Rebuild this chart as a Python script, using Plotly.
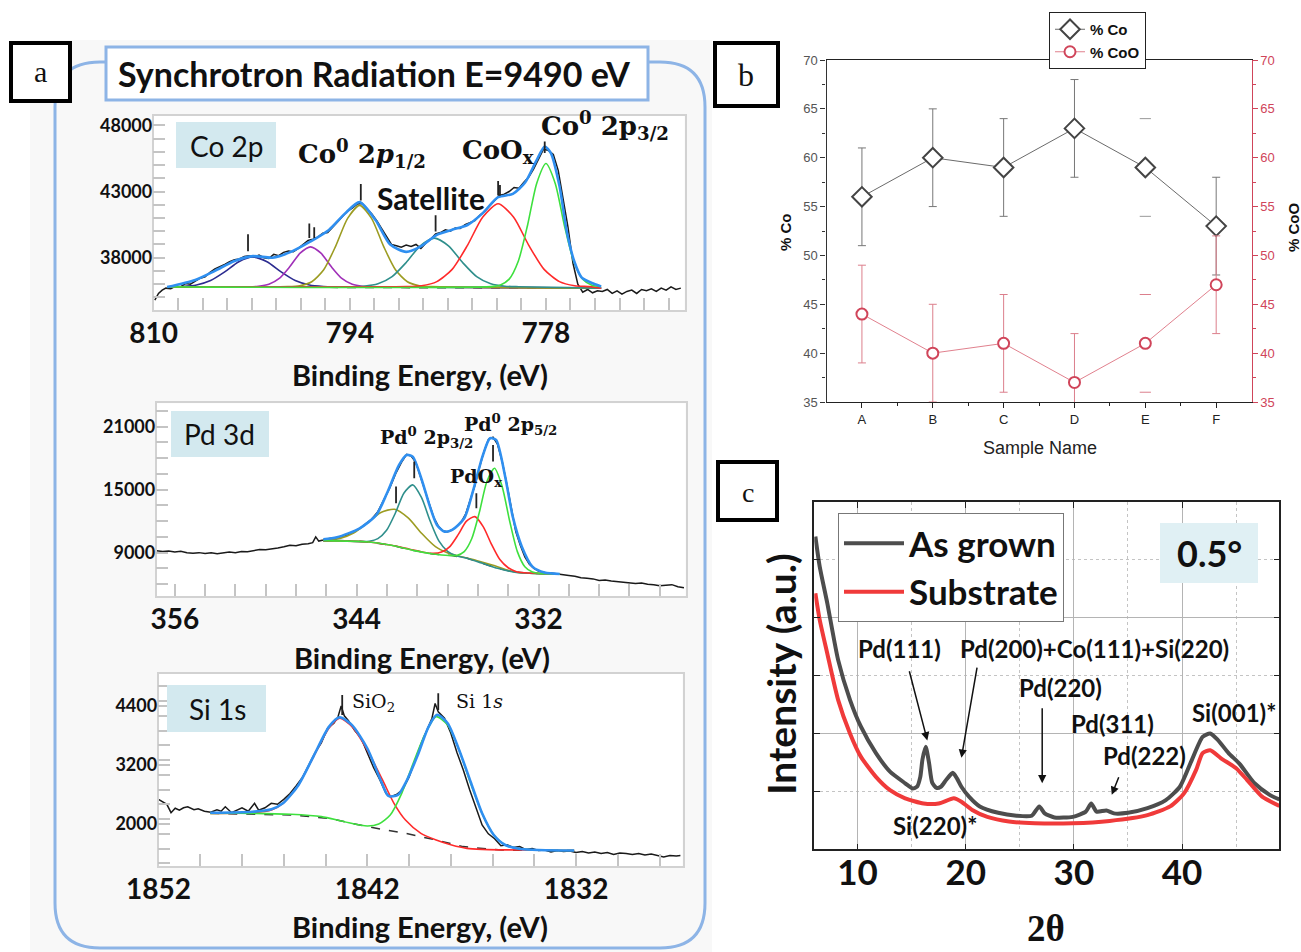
import plotly.graph_objects as go

W, H = 1301, 952


def px(x):
    return x / W


def py(y):
    return 1 - y / H


def dom_x(a, b):
    return [a / W, b / W]


def dom_y(top, bottom):
    return [1 - bottom / H, 1 - top / H]


# ======================= DATA =======================
# ---- Panel a : Co 2p ----
co_raw_be = [809.9, 809.6, 809.3, 809.0, 808.6, 808.2, 807.8, 807.4, 807.0, 806.6, 806.2, 805.8, 805.4, 805.0,
             804.6, 804.2, 803.8, 803.4, 803.0, 802.6, 802.2, 801.8, 801.4, 801.0, 800.6, 800.2, 799.8, 799.4,
             799.0, 798.6, 798.2, 797.8, 797.4, 797.0, 796.6, 796.2, 795.8, 795.4, 795.0, 794.6, 794.2, 793.8,
             793.4, 793.0, 792.6, 792.2, 791.8, 791.4, 791.0, 790.6, 790.2, 789.8, 789.4, 789.0, 788.6, 788.2,
             787.8, 787.4, 787.0, 786.6, 786.2, 785.8, 785.4, 785.0, 784.6, 784.2, 783.8, 783.4, 783.0, 782.6,
             782.2, 781.8, 781.4, 781.0, 780.6, 780.2, 779.8, 779.4, 779.0, 778.6, 778.2, 777.8, 777.4, 777.0,
             776.6, 776.2, 775.8, 775.4, 775.0, 774.6, 774.2, 773.8, 773.4, 773.0, 772.6, 772.2, 771.8, 771.4,
             771.0, 770.6, 770.2, 769.8, 769.4, 769.0, 768.6, 768.2, 767.8, 767.4, 767.0]
co_raw_cps = [34800, 35300, 35550, 35700, 35650, 35850, 35800, 36050, 36000, 36250, 36450, 36550, 36900, 37150,
              37300, 37500, 37700, 37850, 37900, 38100, 38150, 38050, 38200, 38000, 37950, 38250, 38150, 38400,
              38500, 38450, 38700, 39000, 39300, 39400, 39550, 39850, 39900, 40300, 40700, 41100, 41500, 41750,
              42050, 42100, 41700, 41300, 40800, 40200, 39600, 39000, 38900, 38800, 38950, 38850, 39000, 38700,
              39100, 39400, 39800, 39900, 40100, 40000, 40250, 40200, 40500, 40650, 40800, 41200, 41500, 41900,
              42300, 42700, 42800, 43000, 43300, 43250, 43700, 44100, 44700, 45400, 46200, 46100, 45800, 44600,
              42500, 40300, 37600, 36000, 35400, 35600, 35350, 35500, 35450, 35600, 35300, 35500, 35250, 35450,
              35550, 35300, 35600, 35500, 35650, 35450, 35700, 35550, 35800, 35600, 35700]
co_env_be = [808.9, 806.6, 805.0, 803.4, 801.9, 800.3, 798.8, 797.2, 795.7, 794.4, 793.2, 791.9, 790.7, 789.4,
             788.2, 786.9, 785.7, 784.4, 783.2, 781.9, 780.7, 779.7, 778.8, 778.1, 777.6, 776.9, 776.3, 775.7,
             775.1, 774.1, 773.5]
co_env_cps = [35780, 36320, 37010, 37750, 38120, 38000, 38440, 39230, 40100, 41330, 42200, 40840, 38990, 38440,
              38860, 39730, 40100, 40470, 41330, 42570, 42820, 43680, 45290, 46400, 45900, 43430, 39980, 37750,
              36520, 36030, 35830]
co_bg_be = [808.9, 773.5]
co_bg_cps = [35800, 35690]
co_c1_be = [808.9, 808.8, 807.65, 806.5, 805.35, 804.2, 803.05, 801.9, 800.75, 799.6, 798.45, 797.3, 796.15, 795.0, 773.5]
co_c1_cps = [35800, 35805, 35830, 35941, 36273, 36925, 37692, 38050, 37692, 36925, 36273, 35941, 35830, 35805, 35700]
co_c2_be = [808.9, 802.3, 801.45, 800.6, 799.75, 798.9, 798.05, 797.2, 796.35, 795.5, 794.65, 793.8, 792.95, 792.1, 773.5]
co_c2_cps = [35800, 35806, 35840, 35989, 36434, 37310, 38340, 38820, 38340, 37310, 36434, 35989, 35840, 35806, 35700]
co_c3_be = [808.9, 799.05, 798.075, 797.1, 796.125, 795.15, 794.175, 793.2, 792.225, 791.25, 790.275, 789.3, 788.325, 787.35, 773.5]
co_c3_cps = [35800, 35812, 35882, 36184, 37092, 38875, 40972, 41950, 40972, 38875, 37092, 36184, 35882, 35812, 35700]
co_c4_be = [808.9, 794.0, 792.85, 791.7, 790.55, 789.4, 788.25, 787.1, 785.95, 784.8, 783.65, 782.5, 781.35, 780.2, 773.5]
co_c4_cps = [35800, 35807, 35849, 36030, 36573, 37640, 38895, 39480, 38895, 37640, 36573, 36030, 35849, 35807, 35700]
co_c5_be = [808.9, 789.4, 788.15, 786.9, 785.65, 784.4, 783.15, 781.9, 780.65, 779.4, 778.15, 776.9, 775.65, 774.4, 773.5]
co_c5_cps = [35800, 35813, 35883, 36192, 37117, 38935, 41073, 42070, 41073, 38935, 37117, 36192, 35883, 35813, 35700]
co_c6_be = [808.9, 782.5, 781.75, 781.0, 780.25, 779.5, 778.75, 778.0, 777.25, 776.5, 775.75, 775.0, 774.25, 773.5]
co_c6_cps = [35800, 35819, 35924, 36382, 37755, 40455, 43630, 45110, 43630, 40455, 37755, 36382, 35924, 35819]
co_marks_be = [802.3, 797.3, 796.9, 793.1, 787.0, 781.9, 781.75, 778.1]
co_marks_lo = [38490, 39480, 39480, 42320, 39980, 42690, 42690, 45900]
co_marks_hi = [39780, 40590, 40300, 43560, 41210, 43800, 43500, 46770]

# ---- Panel a : Pd 3d ----
pd_raw_be = [357.2, 356.8, 356.4, 356.0, 355.6, 355.2, 354.8, 354.4, 354.0, 353.6, 353.2, 352.8, 352.4, 352.0,
             351.6, 351.2, 350.8, 350.4, 350.0, 349.6, 349.2, 348.8, 348.4, 348.0, 347.6, 347.2, 346.9, 346.7,
             346.5, 346.2, 345.8, 345.4, 345.0, 344.6, 344.2, 343.8, 343.4, 343.0, 342.6, 342.2, 341.8, 341.4,
             341.0, 340.7, 340.4, 340.1, 339.8, 339.5, 339.2, 338.9, 338.6, 338.3, 338.0, 337.7, 337.4, 337.1,
             336.8, 336.5, 336.2, 335.9, 335.6, 335.3, 335.0, 334.7, 334.4, 334.1, 333.8, 333.5, 333.2, 332.9,
             332.6, 332.3, 332.0, 331.6, 331.2, 330.8, 330.4, 330.0, 329.6, 329.2, 328.8, 328.4, 328.0, 327.6,
             327.2, 326.8, 326.4, 326.0, 325.6, 325.2, 324.8, 324.4, 324.0, 323.6, 323.2, 322.8, 322.4]
pd_raw_cps = [9180, 9100, 9150, 9050, 9120, 8980, 8950, 9000, 8920, 8980, 8900, 9000, 9050, 8980,
              9100, 9080, 9200, 9300, 9280, 9400, 9450, 9550, 9700, 9650, 9800, 9850, 9950, 10500,
              10100, 10200, 10350, 10400, 10550, 10700, 10950, 11300, 11750, 12200, 12900, 14000, 15200, 16600,
              17700, 18350, 18200, 17600, 16300, 14900, 13500, 12300, 11500, 11050, 11000, 11150, 11500, 11900,
              12700, 14000, 15400, 17100, 18600, 19800, 20000, 19300, 17700, 15600, 13100, 11000, 9700, 8600,
              7900, 7500, 7250, 7100, 7050, 6950, 6900, 6820, 6750, 6600, 6550, 6500, 6350, 6400,
              6300, 6250, 6200, 6150, 6050, 6100, 5980, 5950, 5850, 5900, 5950, 5750, 5650]
pd_env_be = [346.2, 345.3, 343.8, 342.7, 342.0, 341.2, 340.7, 340.3, 339.7, 339.2, 338.7, 338.2, 337.7, 336.9,
             336.3, 335.7, 335.2, 334.8, 334.2, 333.7, 333.1, 332.4, 331.6, 330.6]
pd_env_cps = [10270, 10460, 11320, 12590, 14650, 17350, 18300, 18140, 15920, 13540, 11640, 11000, 11160, 12270,
              14970, 18140, 19890, 19730, 16240, 12430, 9570, 7670, 7100, 6970]
pd_bg_be = [346.2, 344.5, 343.2, 341.7, 340.2, 338.95, 337.7, 336.7, 335.7, 334.7, 333.65, 332.6, 330.6]
pd_bg_cps = [10140, 10140, 10015, 9700, 9190, 8870, 8715, 8460, 7985, 7510, 7160, 7030, 6970]
pd_olive_be = [346.2, 346.0, 345.1, 344.2, 343.3, 342.4, 341.5, 340.6, 339.7, 338.8, 337.9, 337.0, 336.1, 335.0,
               333.6, 332.6, 330.6]
pd_olive_cps = [10140, 10186, 10358, 10871, 11810, 12827, 13130, 12307, 10820, 9571, 8928, 8586, 8257, 7800,
                7160, 7030, 6970]
pd_teal_be = [346.2, 345.0, 343.75, 343.175, 342.6, 342.025, 341.45, 340.875, 340.3, 339.725, 339.15, 338.575,
              338.0, 337.425, 336.85, 335.7, 334.7, 333.65, 332.6, 330.6]
pd_teal_cps = [10140, 10140, 10052, 10072, 10328, 11122, 12750, 14684, 15450, 14254, 12020, 10122, 9128, 8702,
               8512, 7985, 7510, 7160, 7030, 6970]
pd_red_be = [346.2, 343.2, 341.7, 340.5, 339.5, 338.95, 338.4, 337.85, 337.3, 336.75, 336.2, 335.65, 335.1,
             334.55, 334.0, 333.45, 332.9, 331.5, 330.6]
pd_red_cps = [10140, 10015, 9700, 9330, 9008, 8926, 9051, 9578, 10710, 11995, 12430, 11475, 9790, 8338, 7561,
              7176, 7078, 7000, 6970]
pd_green_be = [346.2, 343.2, 341.7, 340.2, 338.95, 337.9, 337.4, 336.9, 336.4, 335.9, 335.4, 334.9, 334.4,
               333.9, 333.4, 332.9, 332.4, 331.9, 330.6]
pd_green_cps = [10140, 10015, 9700, 9190, 8870, 8729, 8735, 9099, 10340, 12855, 15800, 17030, 15300, 11985,
                9120, 7659, 7145, 7019, 6970]
pd_marks_be = [341.4, 340.2, 336.1, 335.0]
pd_marks_lo = [13700, 16080, 13220, 17670]
pd_marks_hi = [15290, 17670, 14650, 19260]

# ---- Panel a : Si 1s ----
si_raw_be = [1852.0, 1851.8, 1851.6, 1851.4, 1851.2, 1851.0, 1850.8, 1850.6, 1850.3, 1850.1, 1849.8, 1849.5,
             1849.2, 1849.0, 1848.8, 1848.5, 1848.2, 1848.0, 1847.7, 1847.4, 1847.2, 1846.9, 1846.6, 1846.3,
             1846.0, 1845.7, 1845.4, 1845.1, 1844.8, 1844.5, 1844.2, 1843.9, 1843.6, 1843.4, 1843.25, 1843.1,
             1842.9, 1842.6, 1842.3, 1842.0, 1841.7, 1841.4, 1841.1, 1840.9, 1840.6, 1840.3, 1840.0, 1839.7,
             1839.4, 1839.1, 1838.9, 1838.75, 1838.6, 1838.3, 1838.0, 1837.7, 1837.4, 1837.1, 1836.8, 1836.5,
             1836.2, 1835.9, 1835.6, 1835.3, 1835.0, 1834.7, 1834.4, 1834.1, 1833.8, 1833.5, 1833.2, 1832.9,
             1832.6, 1832.3, 1832.0, 1831.7, 1831.4, 1831.1, 1830.8, 1830.5, 1830.2, 1829.9, 1829.6, 1829.3,
             1829.0, 1828.7, 1828.4, 1828.1, 1827.8, 1827.5, 1827.2, 1827.0]
si_raw_cps = [2500, 2450, 2400, 2230, 2320, 2280, 2330, 2350, 2290, 2310, 2260, 2240,
              2290, 2260, 2350, 2230, 2300, 2330, 2260, 2420, 2280, 2330, 2420, 2400,
              2500, 2620, 2780, 2950, 3200, 3450, 3650, 3950, 4050, 4180, 4400, 4200,
              4100, 3900, 3750, 3450, 3150, 2900, 2620, 2550, 2600, 2700, 2950, 3300,
              3650, 3950, 4150, 4450, 4280, 4150, 3850, 3450, 3100, 2700, 2350, 1980,
              1800, 1700, 1560, 1580, 1520, 1540, 1480, 1500, 1460, 1470, 1430, 1460,
              1440, 1450, 1420, 1440, 1410, 1430, 1400, 1420, 1380, 1410, 1400, 1380,
              1400, 1370, 1390, 1360, 1330, 1360, 1350, 1360]
si_env_be = [1849.52, 1847.50, 1846.59, 1846.04, 1845.30, 1844.57, 1843.83, 1843.32, 1842.73, 1842.0, 1841.36,
             1840.99, 1840.53, 1840.17, 1839.61, 1839.06, 1838.66, 1838.15, 1837.60, 1837.05, 1836.50, 1835.94,
             1835.39, 1834.66, 1832.09]
si_env_cps = [2230, 2250, 2300, 2420, 2790, 3380, 3980, 4170, 4010, 3540, 2895, 2570, 2590, 2830, 3370, 3980,
              4220, 4050, 3505, 2860, 2217, 1776, 1573, 1491, 1460]
si_bg_be = [1849.52, 1845.67, 1843.83, 1842.0, 1840.17, 1838.70, 1837.41, 1835.58, 1832.09]
si_bg_cps = [2217, 2183, 2115, 1946, 1810, 1675, 1540, 1470, 1460]
si_red_be = [1849.52, 1847.50, 1846.59, 1846.04, 1845.30, 1844.57, 1843.83, 1843.32, 1842.73, 1842.0, 1841.27,
             1840.72, 1840.17, 1839.43, 1838.70, 1837.96, 1837.23, 1836.50, 1834.66, 1832.09]
si_red_cps = [2217, 2230, 2285, 2420, 2790, 3370, 3950, 4150, 3980, 3505, 2895, 2420, 2080, 1810, 1675, 1573,
              1505, 1485, 1470, 1460]
si_green_be = [1849.52, 1847.50, 1845.67, 1844.20, 1843.10, 1842.0, 1841.45, 1840.90, 1840.35, 1839.80, 1839.25,
               1838.70, 1838.15, 1837.60, 1837.05, 1836.50, 1835.94, 1835.39, 1834.66, 1832.09]
si_green_cps = [2217, 2217, 2197, 2150, 2047, 1960, 2000, 2183, 2624, 3234, 3810, 4183, 4014, 3505, 2827, 2217,
                1776, 1573, 1491, 1460]
si_marks_be = [1843.2, 1838.6]
si_marks_lo = [4217, 4318]
si_marks_hi = [4624, 4657]

# ---- Panel b ----
samples = ["A", "B", "C", "D", "E", "F"]
co_pct = [56, 60, 59, 63, 59, 53]
co_err = [5, 5, 5, 5, 5, 5]
coo_pct = [44, 40, 41, 37, 41, 47]
coo_err = [5, 5, 5, 5, 5, 5]
stem_hidden = [False, False, False, False, True, False]

# ---- Panel c ----
asg_2t = [6.1, 6.5, 7.2, 8.2, 9.3, 10.3, 11.7, 13.0, 14.4, 15.1, 15.5, 15.8, 16.0, 16.3, 16.6, 16.9, 17.3,
          17.7, 18.2, 18.8, 19.2, 19.6, 20.3, 21.3, 23.0, 24.7, 26.1, 26.8, 27.3, 28.2, 29.9, 31.1, 31.6,
          32.1, 33.0, 33.7, 35.0, 36.8, 38.5, 39.8, 40.9, 41.9, 42.6, 43.3, 44.3, 45.3, 46.7, 48.1, 49.0]
asg_int = [5.40, 4.88, 4.25, 3.27, 2.58, 2.12, 1.66, 1.34, 1.14, 1.05, 1.08, 1.25, 1.55, 1.77, 1.50, 1.15, 1.06,
           1.08, 1.20, 1.32, 1.22, 1.08, 0.91, 0.74, 0.63, 0.58, 0.58, 0.74, 0.62, 0.55, 0.56, 0.65, 0.79,
           0.65, 0.67, 0.62, 0.63, 0.71, 0.85, 1.08, 1.54, 1.94, 2.00, 1.89, 1.66, 1.48, 1.14, 0.94, 0.86]
sub_2t = [6.1, 6.5, 7.2, 8.2, 9.3, 10.3, 11.7, 13.0, 14.4, 16.1, 17.5, 18.9, 19.6, 20.6, 22.0, 24.0, 26.4,
          29.9, 33.3, 36.8, 38.9, 40.2, 41.3, 41.9, 42.6, 43.6, 45.0, 46.0, 47.4, 49.0]
sub_int = [4.42, 3.96, 3.38, 2.58, 2.00, 1.60, 1.25, 1.02, 0.88, 0.79, 0.79, 0.88, 0.82, 0.68, 0.56, 0.48, 0.45,
           0.45, 0.49, 0.59, 0.74, 0.97, 1.37, 1.66, 1.71, 1.57, 1.40, 1.20, 0.91, 0.75]

# ======================= STYLE =======================
C_RAW = "#1a1a1a"
C_ENV = "#2f8ff0"
C_NAVY = "#2c2c90"
C_PURPLE = "#a030b8"
C_OLIVE = "#9c9c22"
C_TEAL = "#2f8f8c"
C_RED = "#ff2a2a"
C_GREEN = "#3ee03e"
LBLUE = "#8db4e6"
BOXBLUE = "#d3e9ef"
CB_RED = "#d0455a"

fig = go.Figure()


def line(x, y, xa, ya, color, width, dash=None, spline=False):
    fig.add_trace(go.Scatter(
        x=x, y=y, xaxis=xa, yaxis=ya, mode="lines", showlegend=False, hoverinfo="skip",
        line=dict(color=color, width=width, dash=dash,
                  shape="spline" if spline else "linear", smoothing=0.7 if spline else None)))


def marks(xs, lo, hi, xa, ya):
    X, Y = [], []
    for a, b, c in zip(xs, lo, hi):
        X += [a, a, None]
        Y += [b, c, None]
    fig.add_trace(go.Scatter(x=X, y=Y, xaxis=xa, yaxis=ya, mode="lines", showlegend=False,
                             hoverinfo="skip", line=dict(color="#222", width=1.8)))


# Co 2p
line(co_raw_be, co_raw_cps, "x", "y", C_RAW, 1.5)
line(co_bg_be, co_bg_cps, "x", "y", "#333", 1.5, dash="dash")
for bx, by, col in [(co_c1_be, co_c1_cps, C_NAVY), (co_c2_be, co_c2_cps, C_PURPLE),
                    (co_c3_be, co_c3_cps, C_OLIVE), (co_c4_be, co_c4_cps, C_TEAL),
                    (co_c5_be, co_c5_cps, C_RED), (co_c6_be, co_c6_cps, C_GREEN)]:
    line(bx, by, "x", "y", col, 1.6, spline=True)
line(co_env_be, co_env_cps, "x", "y", C_ENV, 2.6, spline=True)
marks(co_marks_be, co_marks_lo, co_marks_hi, "x", "y")

# Pd 3d
line(pd_raw_be, pd_raw_cps, "x2", "y2", C_RAW, 1.5)
line(pd_bg_be, pd_bg_cps, "x2", "y2", "#333", 1.5, dash="dash")
for bx, by, col in [(pd_olive_be, pd_olive_cps, C_OLIVE), (pd_teal_be, pd_teal_cps, C_TEAL),
                    (pd_red_be, pd_red_cps, C_RED), (pd_green_be, pd_green_cps, C_GREEN)]:
    line(bx, by, "x2", "y2", col, 1.6, spline=True)
line(pd_env_be, pd_env_cps, "x2", "y2", C_ENV, 2.6, spline=True)
marks(pd_marks_be, pd_marks_lo, pd_marks_hi, "x2", "y2")

# Si 1s
line(si_raw_be, si_raw_cps, "x3", "y3", C_RAW, 1.5)
line(si_bg_be, si_bg_cps, "x3", "y3", "#333", 1.5, dash="dash")
line(si_red_be, si_red_cps, "x3", "y3", C_RED, 1.6, spline=True)
line(si_green_be, si_green_cps, "x3", "y3", C_GREEN, 1.6, spline=True)
line(si_env_be, si_env_cps, "x3", "y3", C_ENV, 2.6, spline=True)
marks(si_marks_be, si_marks_lo, si_marks_hi, "x3", "y3")

# Panel b
xi = list(range(len(samples)))
co_err_draw = [0 if h else e for e, h in zip(co_err, stem_hidden)]
coo_err_draw = [0 if h else e for e, h in zip(coo_err, stem_hidden)]
fig.add_trace(go.Scatter(
    x=xi, y=co_pct, xaxis="x4", yaxis="y4", name="% Co", mode="lines+markers",
    line=dict(color="#444", width=0.8),
    marker=dict(symbol="diamond", size=15, color="white", line=dict(color="#444", width=2)),
    error_y=dict(type="data", array=co_err_draw, color="#777", thickness=1, width=4), legend="legend"))
fig.add_trace(go.Scatter(
    x=xi, y=coo_pct, xaxis="x4", yaxis="y5", name="% CoO", mode="lines+markers",
    line=dict(color="#d86070", width=0.8),
    marker=dict(symbol="circle", size=11, color="white", line=dict(color=CB_RED, width=2)),
    error_y=dict(type="data", array=coo_err_draw, color="#dc7f8c", thickness=1, width=4), legend="legend"))
cap_x, cap_co, cap_coo = [], [], []
for i, h in enumerate(stem_hidden):
    if h:
        cap_x += [i, i]
        cap_co += [co_pct[i] + co_err[i], co_pct[i] - co_err[i]]
        cap_coo += [coo_pct[i] + coo_err[i], coo_pct[i] - coo_err[i]]
fig.add_trace(go.Scatter(x=cap_x, y=cap_co, xaxis="x4", yaxis="y4", mode="markers", showlegend=False,
                         marker=dict(symbol="line-ew", size=8, line=dict(color="#999", width=1))))
fig.add_trace(go.Scatter(x=cap_x, y=cap_coo, xaxis="x4", yaxis="y5", mode="markers", showlegend=False,
                         marker=dict(symbol="line-ew", size=8, line=dict(color="#dc7f8c", width=1))))

# Panel c
fig.add_trace(go.Scatter(x=asg_2t, y=asg_int, xaxis="x5", yaxis="y6", name="As grown", mode="lines",
                         line=dict(color="#4d4d4d", width=4, shape="spline", smoothing=0.6), legend="legend2"))
fig.add_trace(go.Scatter(x=sub_2t, y=sub_int, xaxis="x5", yaxis="y6", name="Substrate", mode="lines",
                         line=dict(color="#f03a3a", width=4, shape="spline", smoothing=0.6), legend="legend2"))

# ======================= AXES =======================
TICKG = "#c4c4c4"


def xps_x(domain, anchor, rng, tick0, dtick):
    return dict(domain=domain, anchor=anchor, range=rng, tickmode="linear", tick0=tick0, dtick=dtick,
                tickformat="d", automargin=False,
                showline=True, linecolor="#d2d2d2", linewidth=1.5, mirror=True, showgrid=False, zeroline=False,
                ticks="inside", ticklen=12, tickcolor=TICKG, tickwidth=1.5,
                minor=dict(dtick=2, ticks="inside", ticklen=12, tickcolor=TICKG, tickwidth=1.5, showgrid=False),
                tickfont=dict(family="Lato", size=28, color="#111", weight="bold"), ticklabelstandoff=-2)


def xps_y(domain, anchor, rng, tick0, dtick, mdt):
    return dict(domain=domain, anchor=anchor, range=rng, tickmode="linear", tick0=tick0, dtick=dtick,
                tickformat="d", automargin=False,
                showline=True, linecolor="#d2d2d2", linewidth=1.5, mirror=True, showgrid=False, zeroline=False,
                ticks="inside", ticklen=12, tickcolor=TICKG, tickwidth=1.5,
                minor=dict(dtick=mdt, ticks="inside", ticklen=12, tickcolor=TICKG, tickwidth=1.5, showgrid=False),
                tickfont=dict(family="Lato", size=18, color="#111", weight="bold"), ticklabelstandoff=-4)


layout = dict(
    template="none",
    width=W, height=H, autosize=False, margin=dict(l=0, r=0, t=0, b=0, pad=0),
    paper_bgcolor="white", plot_bgcolor="white",
    font=dict(family="Lato", color="#111"),
    xaxis=xps_x(dom_x(153.6, 684.5), "y", [810, 766.7], 810, 16),
    yaxis=xps_y(dom_y(115.5, 310), "x", [34050, 48740], 38000, 5000, 1000),
    xaxis2=xps_x(dom_x(156.6, 685.5), "y2", [357.2, 322.3], 356, 12),
    yaxis2=xps_y(dom_y(403.3, 596), "x2", [4870, 23220], 9000, 6000, 1500),
    xaxis3=xps_x(dom_x(158.5, 682.5), "y3", [1852.0, 1826.9], 1852, 10),
    yaxis3=xps_y(dom_y(674, 866), "x3", [1146, 5050], 2000, 1200, 300),
    xaxis4=dict(domain=dom_x(826.5, 1251.6), anchor="y4", range=[-0.5, 5.5], tickmode="array", automargin=False,
                tickvals=xi, ticktext=samples, showline=True, linecolor="#222", linewidth=1.3, mirror=True,
                ticks="outside", ticklen=5, tickcolor="#222", showgrid=False, zeroline=False,
                minor=dict(tickvals=[0.5, 1.5, 2.5, 3.5, 4.5], ticks="outside", ticklen=3, tickcolor="#222",
                           showgrid=False),
                tickfont=dict(family="Liberation Sans", size=13, color="#222")),
    yaxis4=dict(domain=dom_y(60, 402), anchor="x4", range=[35, 70], tickmode="linear", tick0=35, dtick=5,
                automargin=False,
                showline=True, linecolor="#333", linewidth=1.3, ticks="outside", ticklen=5, tickcolor="#333",
                minor=dict(dtick=2.5, ticks="outside", ticklen=3, tickcolor="#333", showgrid=False),
                showgrid=False, zeroline=False, tickfont=dict(family="Liberation Sans", size=13, color="#555")),
    yaxis5=dict(overlaying="y4", side="right", anchor="x4", range=[35, 70], tickmode="linear", tick0=35,
                dtick=5, automargin=False, showline=True, linecolor=CB_RED, linewidth=1.3, ticks="outside",
                ticklen=5, tickcolor=CB_RED,
                minor=dict(dtick=2.5, ticks="outside", ticklen=3, tickcolor=CB_RED, showgrid=False),
                showgrid=False, zeroline=False, tickfont=dict(family="Liberation Sans", size=13, color=CB_RED)),
    xaxis5=dict(domain=dom_x(814.3, 1279.4), anchor="y6", range=[6, 49], tickmode="linear", tick0=0, dtick=10,
                automargin=False,
                showline=True, linecolor="#222", linewidth=1.6, mirror="ticks", ticks="inside", ticklen=6,
                tickcolor="#222", showgrid=True, gridcolor="#b4b4b4", gridwidth=1, zeroline=False,
                minor=dict(dtick=5, showgrid=True, gridcolor="#c4c4c4", griddash="dot", gridwidth=1),
                tickfont=dict(family="Lato", size=35, color="#111", weight="bold"), ticklabelstandoff=-8),
    yaxis6=dict(domain=dom_y(501.7, 849.3), anchor="x5", range=[0, 6], tickmode="linear", tick0=0, dtick=2,
                automargin=False,
                showticklabels=False, showline=True, linecolor="#222", linewidth=1.6, mirror="ticks",
                ticks="inside", ticklen=6, tickcolor="#222", showgrid=True, gridcolor="#b4b4b4", gridwidth=1,
                zeroline=False,
                minor=dict(dtick=1, showgrid=True, gridcolor="#c4c4c4", griddash="dot", gridwidth=1,
                           ticks="inside", ticklen=6, tickcolor="#222")),
    legend=dict(x=px(1049), y=py(12), xanchor="left", yanchor="top", bgcolor="white", bordercolor="#222",
                borderwidth=1, font=dict(family="Liberation Sans", size=15, color="#111", weight="bold"),
                tracegroupgap=0, itemwidth=30),
    legend2=dict(x=px(838), y=py(513), xanchor="left", yanchor="top", bgcolor="white", bordercolor="#777",
                 borderwidth=1, font=dict(family="Lato", size=35, color="#111", weight="bold"),
                 tracegroupgap=0, itemwidth=60),
)
fig.update_layout(**layout)

# ======================= SHAPES =======================
shapes = []
shapes.append(dict(type="rect", xref="paper", yref="paper", x0=px(30), x1=px(712), y0=py(952), y1=py(40),
                   fillcolor="#f8f8f8", line=dict(width=0), layer="below"))
for (l, r, t, b) in [(153.6, 684.5, 115.5, 310), (156.6, 685.5, 403.3, 596), (158.5, 682.5, 674, 866)]:
    shapes.append(dict(type="rect", xref="paper", yref="paper", x0=px(l), x1=px(r), y0=py(b), y1=py(t),
                       fillcolor="white", line=dict(width=0), layer="below"))

L, R, T, B, RR = 55, 705, 62, 948, 45


def P(x, y):
    return f"{px(x):.5f},{py(y):.5f}"


path = (f"M {P(L, T + RR)} Q {P(L, T)} {P(L + RR, T)} L {P(R - RR, T)} Q {P(R, T)} {P(R, T + RR)} "
        f"L {P(R, B - RR)} Q {P(R, B)} {P(R - RR, B)} L {P(L + RR, B)} Q {P(L, B)} {P(L, B - RR)} Z")
shapes.append(dict(type="path", xref="paper", yref="paper", path=path, line=dict(color=LBLUE, width=3),
                   layer="above"))
# title box
shapes.append(dict(type="rect", xref="paper", yref="paper", x0=px(106), x1=px(648), y0=py(100), y1=py(47),
                   fillcolor="white", line=dict(color=LBLUE, width=3), layer="above"))
# label boxes
for (l, r, t, b) in [(11, 70, 43, 101), (715, 778, 43, 106), (718, 777, 462, 520)]:
    shapes.append(dict(type="rect", xref="paper", yref="paper", x0=px(l), x1=px(r), y0=py(b), y1=py(t),
                       fillcolor="white", line=dict(color="black", width=4), layer="above"))
# light blue name boxes
for (l, r, t, b, col) in [(176, 276, 122, 168, BOXBLUE), (171, 269, 411, 457, BOXBLUE),
                          (167, 266, 685, 732, BOXBLUE), (1160, 1258, 523, 583, "#e0f0f4")]:
    shapes.append(dict(type="rect", xref="paper", yref="paper", x0=px(l), x1=px(r), y0=py(b), y1=py(t),
                       fillcolor=col, line=dict(width=0), layer="above"))
fig.update_layout(shapes=shapes)

# ======================= ANNOTATIONS =======================
ann = []


def txt(x, y, s, family="Lato", size=20, color="#111", weight="bold", angle=0):
    ann.append(dict(x=px(x), y=py(y), xref="paper", yref="paper", text=s, showarrow=False,
                    xanchor="center", yanchor="middle", textangle=angle,
                    font=dict(family=family, size=size, color=color, weight=weight)))


SERIF = "Liberation Serif"
DSERIF = "DejaVu Serif"
txt(40, 72, "a", family=SERIF, size=30, weight="normal")
txt(746, 75, "b", family=SERIF, size=32, weight="normal")
txt(748, 492, "c", family=SERIF, size=28, weight="normal")
txt(374, 74, "Synchrotron Radiation E=9490 eV", size=34)

# panel a texts
txt(226, 146, "Co 2p", size=28, weight="normal")
txt(362, 154, "Co<sup>0</sup> 2<i>p</i><sub>1/2</sub>", family=DSERIF, size=26)
txt(431, 198, "Satellite", size=30)
txt(498, 151, "CoO<sub>x</sub>", family=DSERIF, size=26)
txt(605, 126, "Co<sup>0</sup> 2p<sub>3/2</sub>", family=DSERIF, size=26)
txt(420, 375, "Binding Energy, (eV)", size=29)

txt(219, 434, "Pd 3d", size=28, weight="normal")
txt(426, 438, "Pd<sup>0</sup> 2p<sub>3/2</sub>", family=DSERIF, size=19)
txt(510, 424, "Pd<sup>0</sup> 2p<sub>5/2</sub>", family=DSERIF, size=19)
txt(476, 477, "PdO<sub>x</sub>", family=DSERIF, size=19)
txt(422, 657, "Binding Energy, (eV)", size=29)

txt(217, 709, "Si 1s", size=28, weight="normal")
txt(373, 702, "SiO<sub>2</sub>", family=DSERIF, size=19, weight="normal")
txt(479, 701, "Si 1<i>s</i>", family=DSERIF, size=19, weight="normal")
txt(420, 926, "Binding Energy, (eV)", size=29)

# panel b texts
txt(785, 232, "% Co", family="Liberation Sans", size=15, angle=-90)
txt(1293, 227, "% CoO", family="Liberation Sans", size=15, angle=-90)
txt(1040, 448, "Sample Name", family="Liberation Sans", size=18, weight="normal", color="#222")

# panel c texts
txt(781, 674, "Intensity (a.u.)", size=39, angle=-90)
txt(1046, 928, "2θ", family=SERIF, size=37)
txt(1209, 553, "0.5°", size=36)
c_labels = [("Pd(111)", 899, 648), ("Pd(200)+Co(111)+Si(220)", 1094, 648), ("Pd(220)", 1060, 687),
            ("Pd(311)", 1112, 723), ("Pd(222)", 1144, 755), ("Si(001)*", 1234, 712), ("Si(220)*", 935, 825)]
for s, x, y in c_labels:
    txt(x, y, s, size=24)

c_arrows = [(14.75, 3.10, 16.45, 1.88), (21.07, 3.16, 19.6, 1.58), (27.07, 2.46, 27.07, 1.14),
            (34.2, 1.27, 33.5, 0.94)]
for ax_, ay_, hx, hy in c_arrows:
    ann.append(dict(x=hx, y=hy, ax=ax_, ay=ay_, xref="x5", yref="y6", axref="x5", ayref="y6", text="",
                    showarrow=True, arrowhead=2, arrowsize=1.1, arrowwidth=1.5, arrowcolor="#111"))

fig.update_layout(annotations=ann)

fig.write_html("out.html", config={"displayModeBar": False},
               post_script="document.body.style.margin='0';document.body.style.overflow='hidden';")
